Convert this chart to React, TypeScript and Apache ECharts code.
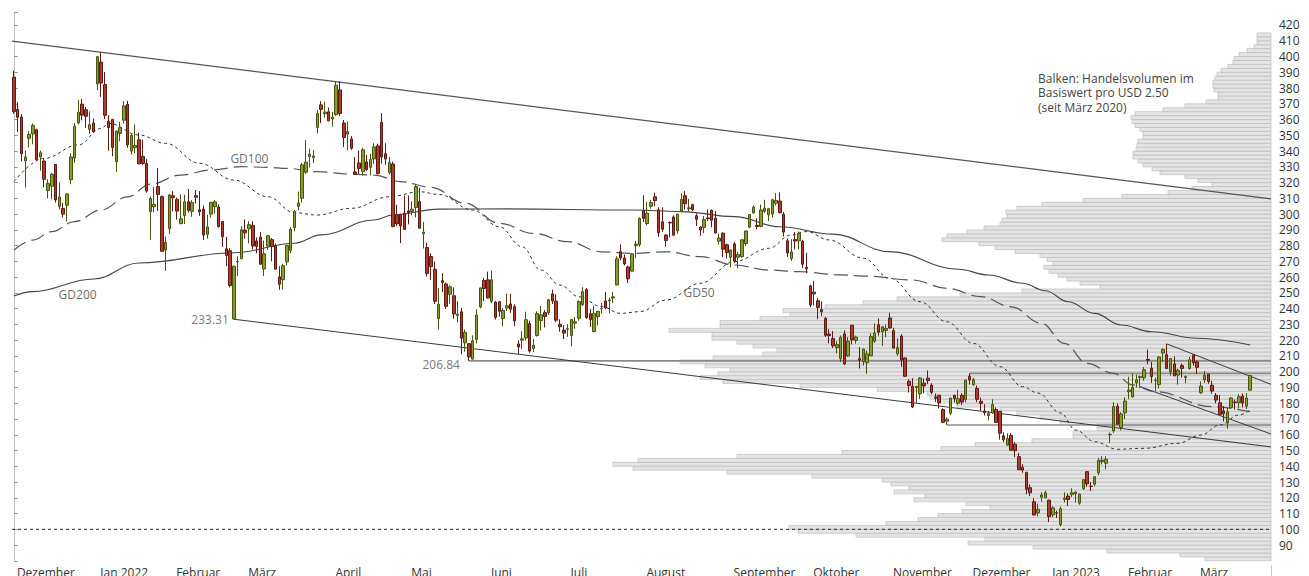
import React, { useEffect, useRef } from 'react';
import * as echarts from 'echarts';

// ---------- categories (trading days) ----------
const MONTHS: [string, string, number[]][] = [
  ['Dezember', '2021-12', [1, 2, 3, 6, 7, 8, 9, 10, 13, 14, 15, 16, 17, 20, 21, 22, 23, 27, 28, 29, 30, 31]],
  ['Jan 2022', '2022-01', [3, 4, 5, 6, 7, 10, 11, 12, 13, 14, 18, 19, 20, 21, 24, 25, 26, 27, 28, 31]],
  ['Februar', '2022-02', [1, 2, 3, 4, 7, 8, 9, 10, 11, 14, 15, 16, 17, 18, 22, 23, 24, 25, 28]],
  ['März', '2022-03', [1, 2, 3, 4, 7, 8, 9, 10, 11, 14, 15, 16, 17, 18, 21, 22, 23, 24, 25, 28, 29, 30, 31]],
  ['April', '2022-04', [1, 4, 5, 6, 7, 8, 11, 12, 13, 14, 18, 19, 20, 21, 22, 25, 26, 27, 28, 29]],
  ['Mai', '2022-05', [2, 3, 4, 5, 6, 9, 10, 11, 12, 13, 16, 17, 18, 19, 20, 23, 24, 25, 26, 27, 31]],
  ['Juni', '2022-06', [1, 2, 3, 6, 7, 8, 9, 10, 13, 14, 15, 16, 17, 21, 22, 23, 24, 27, 28, 29, 30]],
  ['Juli', '2022-07', [1, 5, 6, 7, 8, 11, 12, 13, 14, 15, 18, 19, 20, 21, 22, 25, 26, 27, 28, 29]],
  ['August', '2022-08', [1, 2, 3, 4, 5, 8, 9, 10, 11, 12, 15, 16, 17, 18, 19, 22, 23, 24, 25, 26, 29, 30, 31]],
  ['September', '2022-09', [1, 2, 6, 7, 8, 9, 12, 13, 14, 15, 16, 19, 20, 21, 22, 23, 26, 27, 28, 29, 30]],
  ['Oktober', '2022-10', [3, 4, 5, 6, 7, 10, 11, 12, 13, 14, 17, 18, 19, 20, 21, 24, 25, 26, 27, 28, 31]],
  ['November', '2022-11', [1, 2, 3, 4, 7, 8, 9, 10, 11, 14, 15, 16, 17, 18, 21, 22, 23, 25, 28, 29, 30]],
  ['Dezember', '2022-12', [1, 2, 5, 6, 7, 8, 9, 12, 13, 14, 15, 16, 19, 20, 21, 22, 23, 27, 28, 29, 30]],
  ['Jan 2023', '2023-01', [3, 4, 5, 6, 9, 10, 11, 12, 13, 17, 18, 19, 20, 23, 24, 25, 26, 27, 30, 31]],
  ['Februar', '2023-02', [1, 2, 3, 6, 7, 8, 9, 10, 13, 14, 15, 16, 17, 21, 22, 23, 24, 27, 28]],
  ['März', '2023-03', [1, 2, 3, 6, 7, 8, 9, 10, 13, 14, 15, 16, 17, 20, 21, 22, 23, 24, 27, 28]],
];

// ---------- daily prices [open, high, low, close] ----------
const dec21 = [
  [386.9, 391.0, 363.6, 365.0], [366.4, 371.0, 352.2, 361.5], [361.6, 363.5, 333.4, 338.3], [333.8, 340.5, 316.8, 336.3],
  [348.1, 352.6, 342.3, 350.6], [350.9, 357.5, 344.3, 356.3], [353.5, 354.2, 334.1, 334.6], [336.3, 340.3, 327.5, 339.0],
  [333.7, 335.0, 317.1, 322.1], [315.0, 322.1, 310.0, 319.5], [317.7, 326.3, 309.4, 325.3], [331.5, 331.7, 307.3, 309.0],
  [304.9, 320.2, 303.0, 310.9], [303.6, 307.2, 297.8, 300.0], [305.6, 313.2, 295.4, 312.8], [321.9, 338.6, 319.0, 336.3],
  [335.6, 357.7, 332.5, 355.7], [357.9, 372.3, 356.9, 364.6], [369.8, 373.0, 359.5, 362.8], [366.2, 368.0, 354.7, 362.1],
  [353.8, 365.2, 351.0, 356.8], [357.8, 360.7, 351.5, 352.3],
];
const jan22 = [
  [382.6, 400.4, 378.7, 399.9], [396.5, 402.7, 374.4, 383.2], [382.2, 390.1, 360.3, 362.7], [359.0, 362.7, 340.2, 354.9],
  [360.1, 360.3, 336.7, 342.3], [333.3, 353.0, 326.7, 352.7], [351.2, 358.6, 346.3, 354.8], [359.6, 371.6, 357.5, 368.7],
  [369.7, 371.9, 342.2, 343.9], [340.0, 350.7, 337.8, 349.9], [342.2, 356.9, 338.7, 343.5], [347.2, 351.6, 331.7, 331.9],
  [336.6, 347.2, 331.3, 332.1], [332.1, 334.9, 313.5, 314.6], [301.6, 311.2, 283.8, 310.0], [304.7, 317.1, 301.1, 306.1],
  [317.5, 329.2, 302.0, 312.5], [311.1, 311.8, 276.3, 276.4], [277.2, 285.8, 264.0, 282.1], [290.9, 312.7, 287.4, 312.2],
];
const feb22 = [
  [311.7, 314.6, 301.7, 310.4], [309.4, 310.5, 296.5, 301.9], [294.0, 312.5, 293.5, 297.0], [299.1, 312.2, 293.7, 307.8],
  [307.9, 315.9, 300.9, 302.4], [301.8, 308.8, 298.3, 307.3], [311.7, 315.4, 306.7, 310.7], [302.8, 314.6, 298.9, 301.5],
  [303.2, 305.3, 283.6, 286.7], [287.2, 299.6, 284.4, 291.9], [300.0, 307.7, 297.8, 307.5], [304.7, 308.8, 300.4, 307.8],
  [304.4, 306.2, 291.4, 292.1], [295.3, 295.6, 279.2, 285.7], [278.0, 285.6, 267.0, 273.8], [276.8, 278.4, 253.5, 254.7],
  [233.5, 267.5, 233.3, 266.9], [269.7, 273.2, 260.8, 270.0], [271.7, 292.3, 271.6, 290.1],
];
const mar22 = [
  [289.9, 296.6, 284.6, 288.1], [290.7, 295.5, 281.4, 293.3], [292.9, 295.5, 277.5, 279.8], [283.0, 285.2, 275.1, 279.4],
  [285.4, 288.7, 268.2, 268.2], [265.2, 283.3, 260.7, 274.8], [279.8, 286.9, 277.3, 286.3], [283.8, 284.8, 270.1, 279.4],
  [280.1, 281.3, 264.6, 265.1], [260.2, 266.9, 252.0, 255.5], [258.4, 268.5, 252.2, 267.3], [269.7, 280.7, 267.4, 280.1],
  [277.0, 291.7, 275.2, 290.5], [291.5, 302.6, 289.1, 301.8], [305.0, 314.3, 302.4, 307.1], [310.0, 332.6, 307.3, 331.3],
  [326.6, 346.9, 325.5, 333.0], [336.6, 341.5, 329.6, 338.0], [336.0, 340.6, 332.4, 336.9], [355.0, 366.0, 351.2, 363.9],
  [369.3, 371.6, 357.7, 366.5], [363.7, 371.3, 361.3, 364.7], [364.9, 367.7, 358.9, 359.2],
];
const apr22 = [
  [360.4, 364.9, 355.5, 361.5], [363.1, 384.3, 362.4, 381.8], [378.8, 384.3, 362.4, 363.8], [357.8, 359.7, 342.6, 348.6],
  [350.8, 358.9, 340.5, 352.4], [347.7, 349.5, 340.8, 341.8], [326.8, 336.2, 324.9, 325.3], [332.5, 340.4, 325.5, 329.0],
  [327.0, 342.1, 324.4, 340.8], [333.1, 337.6, 327.4, 328.3], [329.7, 338.3, 324.5, 334.8], [335.0, 345.0, 331.8, 342.7],
  [343.3, 344.7, 325.1, 325.7], [358.2, 364.1, 332.1, 336.3], [338.3, 345.0, 331.3, 335.0], [326.3, 336.2, 325.1, 332.7],
  [331.8, 333.3, 291.7, 292.1], [299.5, 306.0, 292.5, 293.8], [300.0, 300.0, 281.6, 292.5], [300.7, 311.7, 290.3, 290.3],
];
const may22 = [
  [302.0, 311.8, 293.5, 301.0], [301.7, 308.1, 299.3, 303.1], [304.2, 318.5, 297.9, 317.5], [308.0, 316.7, 290.8, 291.1],
  [287.6, 294.9, 278.2, 288.6], [278.8, 281.9, 260.4, 262.4], [273.1, 275.1, 258.1, 266.7], [265.0, 269.9, 243.0, 244.7],
  [233.7, 253.2, 226.7, 242.7], [257.8, 262.5, 250.5, 256.5], [255.7, 256.6, 239.7, 241.5], [249.1, 254.8, 243.0, 253.9],
  [248.2, 253.5, 233.6, 236.6], [235.7, 244.7, 231.4, 236.5], [238.0, 240.5, 211.0, 221.3], [218.3, 226.7, 212.7, 225.0],
  [217.8, 218.0, 206.9, 209.4], [208.0, 223.1, 207.7, 219.6], [220.5, 239.6, 217.9, 235.9], [241.1, 253.3, 240.2, 253.2],
  [257.9, 259.6, 244.7, 252.8],
];
const jun22 = [
  [258.3, 263.5, 246.4, 246.8], [244.7, 264.2, 243.5, 258.3], [244.2, 244.8, 233.2, 234.5], [244.4, 244.8, 234.9, 238.3],
  [233.7, 240.5, 228.8, 238.9], [240.4, 249.6, 238.5, 241.9], [243.0, 249.3, 237.3, 239.7], [241.3, 242.8, 228.9, 232.2],
  [217.6, 219.9, 211.2, 215.7], [220.0, 225.6, 214.5, 220.9], [221.4, 238.1, 219.9, 233.0], [230.5, 232.4, 212.0, 213.1],
  [214.7, 220.7, 212.5, 216.8], [223.0, 238.3, 222.3, 237.0], [232.5, 241.7, 226.1, 236.1], [237.5, 239.1, 228.1, 235.1],
  [237.5, 246.0, 236.0, 245.7], [249.4, 252.1, 243.0, 244.9], [244.8, 249.2, 231.7, 232.7], [230.1, 233.3, 225.4, 228.5],
  [226.4, 229.6, 220.7, 224.5],
];
const jul22 = [
  [227.0, 230.2, 222.1, 227.3], [223.0, 233.1, 216.2, 233.1], [230.8, 234.6, 227.2, 231.7], [233.9, 245.3, 232.3, 244.5],
  [242.6, 253.6, 241.7, 250.8], [252.1, 253.1, 233.6, 234.3], [236.8, 239.8, 228.4, 233.1], [225.5, 242.1, 225.0, 237.0],
  [234.9, 238.7, 229.3, 238.3], [240.0, 243.6, 236.9, 240.1], [244.9, 250.5, 239.6, 240.5], [245.0, 247.1, 237.0, 245.5],
  [246.8, 250.7, 243.5, 247.5], [255.1, 273.3, 254.9, 271.7], [276.2, 280.8, 270.7, 272.2], [272.2, 274.3, 267.5, 268.4],
  [266.5, 267.3, 256.3, 258.9], [263.8, 275.2, 263.7, 274.8], [279.9, 283.1, 272.1, 280.9], [280.7, 298.0, 279.3, 297.2],
];
const aug22 = [
  [302.2, 311.9, 295.0, 297.3], [294.0, 307.8, 292.8, 300.6], [305.0, 308.9, 303.4, 307.4], [311.0, 313.6, 305.0, 308.6],
  [302.7, 304.3, 285.6, 288.2], [295.1, 304.3, 288.8, 290.4], [286.7, 287.4, 279.4, 283.3], [294.7, 295.4, 285.3, 294.4],
  [298.2, 299.2, 286.4, 286.6], [289.4, 300.0, 287.6, 300.0], [301.8, 313.1, 301.2, 309.3], [311.7, 314.7, 302.9, 306.6],
  [303.4, 309.7, 301.7, 304.0], [306.0, 306.5, 301.9, 302.9], [299.0, 300.4, 292.5, 296.7], [291.8, 292.4, 286.3, 289.9],
  [291.5, 298.8, 287.9, 296.5], [297.6, 303.0, 295.7, 297.1], [302.4, 303.0, 291.6, 296.1], [297.4, 302.0, 287.5, 288.1],
  [282.8, 287.7, 280.7, 284.8], [287.9, 288.5, 272.7, 277.7], [280.6, 281.3, 271.8, 275.6],
];
const sep22 = [
  [272.6, 277.6, 266.2, 277.2], [281.1, 282.4, 269.1, 270.2], [272.7, 276.0, 265.7, 274.4], [273.1, 283.8, 272.3, 283.7],
  [281.3, 289.5, 279.8, 289.3], [291.7, 299.9, 291.3, 299.7], [300.7, 305.5, 300.4, 304.4], [292.9, 297.4, 290.4, 292.1],
  [292.2, 306.0, 291.6, 302.6], [301.8, 309.1, 300.7, 303.8], [299.6, 303.7, 295.6, 303.4], [300.1, 309.8, 297.8, 309.1],
  [306.9, 313.3, 305.6, 308.7], [308.3, 313.8, 300.6, 300.8], [299.9, 301.3, 285.8, 288.6], [283.1, 284.5, 272.8, 275.3],
  [271.8, 284.1, 270.3, 276.0], [283.8, 288.7, 277.5, 282.9], [283.1, 289.0, 277.6, 287.8], [282.8, 283.7, 265.8, 268.2],
  [266.2, 275.6, 262.5, 265.3],
];
const oct22 = [
  [254.5, 255.2, 241.0, 242.4], [250.5, 257.5, 242.0, 249.4], [245.0, 246.7, 233.3, 240.8], [239.4, 244.6, 235.4, 238.1],
  [233.9, 234.6, 222.0, 223.1], [223.9, 227.0, 218.0, 223.0], [221.0, 225.8, 215.0, 216.5], [215.3, 219.3, 211.5, 217.2],
  [208.3, 223.0, 206.2, 221.7], [224.0, 226.3, 204.2, 205.0], [210.0, 221.9, 209.5, 219.4], [229.5, 229.8, 217.3, 220.2],
  [219.8, 222.9, 217.8, 222.0], [208.3, 215.6, 202.0, 207.3], [206.4, 214.7, 203.8, 214.4], [205.8, 213.5, 198.6, 211.3],
  [210.1, 224.4, 210.0, 222.4], [219.4, 230.6, 218.2, 224.6], [229.8, 233.8, 222.9, 225.1], [225.4, 228.9, 216.4, 228.5],
  [226.2, 229.9, 221.9, 227.5],
];
const nov22 = [
  [234.1, 237.4, 227.3, 227.8], [226.0, 227.9, 214.8, 215.0], [211.4, 221.2, 210.1, 215.3], [222.6, 223.8, 203.1, 207.5],
  [208.7, 208.9, 196.7, 197.1], [194.0, 195.2, 186.8, 191.3], [190.8, 195.9, 177.1, 177.6], [189.9, 191.0, 180.0, 190.7],
  [186.0, 196.5, 182.6, 196.0], [192.8, 195.7, 186.3, 191.0], [195.9, 200.8, 192.1, 194.4], [191.5, 192.6, 185.7, 186.9],
  [184.0, 186.2, 180.9, 183.2], [185.1, 185.2, 176.6, 180.2], [175.9, 176.8, 167.5, 167.9], [168.6, 170.9, 166.2, 169.9],
  [173.6, 183.6, 172.5, 183.2], [185.1, 185.2, 180.6, 182.9], [180.0, 188.5, 179.0, 182.9], [185.0, 186.4, 178.8, 180.8],
  [182.4, 194.8, 180.6, 194.7],
];
const dec22 = [
  [197.1, 198.9, 191.8, 194.7], [191.8, 196.3, 191.1, 194.9], [189.4, 191.3, 180.6, 182.5], [181.2, 183.7, 175.3, 179.8],
  [175.0, 179.4, 172.2, 174.0], [172.2, 175.2, 169.1, 173.4], [173.8, 182.5, 173.4, 179.1], [176.1, 177.4, 167.5, 167.8],
  [174.9, 175.1, 156.9, 161.0], [159.3, 161.6, 155.3, 156.8], [153.4, 160.9, 153.3, 157.7], [159.6, 161.0, 150.0, 150.2],
  [154.0, 155.3, 145.8, 149.9], [146.1, 148.5, 137.7, 137.8], [139.3, 141.3, 135.9, 137.6], [136.0, 136.6, 122.3, 125.4],
  [126.4, 128.6, 121.0, 123.2], [117.5, 119.7, 108.8, 109.1], [110.4, 116.3, 108.2, 112.7], [120.4, 123.6, 117.5, 121.8],
  [120.0, 124.5, 119.8, 123.2],
];
const jan23 = [
  [118.5, 118.8, 104.6, 108.1], [109.1, 114.6, 107.5, 113.6], [110.5, 111.8, 107.2, 110.3], [103.0, 114.4, 101.8, 113.1],
  [119.0, 123.5, 117.1, 119.8], [121.1, 122.8, 114.9, 118.9], [122.1, 126.0, 120.5, 123.2], [122.6, 124.1, 117.0, 123.6],
  [116.6, 122.6, 115.6, 122.4], [125.7, 131.7, 125.0, 131.5], [136.6, 136.7, 127.0, 128.8], [127.3, 130.0, 124.3, 127.2],
  [128.7, 133.5, 127.4, 133.4], [135.9, 145.4, 134.3, 143.8], [143.0, 146.5, 141.1, 143.9], [141.9, 146.4, 138.1, 144.4],
  [160.0, 161.4, 154.8, 160.3], [162.4, 180.7, 161.2, 177.9], [178.1, 179.8, 166.5, 166.7], [164.6, 174.3, 162.8, 173.2],
];
const feb23 = [
  [173.9, 183.8, 169.9, 181.4], [187.3, 196.8, 182.6, 188.3], [184.0, 199.0, 183.7, 190.0], [193.0, 198.2, 189.9, 194.8],
  [196.4, 197.5, 189.6, 196.8], [196.1, 203.0, 194.3, 201.3], [207.8, 214.0, 204.8, 207.3], [202.2, 206.2, 192.9, 196.9],
  [194.4, 196.3, 187.6, 194.6], [191.9, 209.8, 189.4, 209.3], [211.8, 214.7, 206.1, 214.2], [210.8, 217.7, 201.8, 202.0],
  [200.0, 208.4, 197.5, 208.3], [205.0, 209.7, 197.2, 197.4], [197.9, 202.0, 191.8, 200.9], [203.9, 205.1, 196.3, 202.1],
  [196.3, 197.7, 192.8, 196.9], [202.0, 209.4, 201.3, 207.6], [210.6, 211.2, 203.8, 205.7],
];
const mar23 = [
  [206.2, 207.2, 198.5, 202.8], [186.7, 193.8, 186.0, 190.9], [194.8, 200.5, 192.9, 197.8], [198.5, 198.6, 192.3, 193.8],
  [191.4, 194.2, 186.1, 187.7], [185.0, 186.5, 180.0, 182.0], [180.3, 185.2, 172.5, 172.9], [175.1, 178.3, 168.4, 173.4],
  [167.5, 177.4, 163.9, 174.5], [177.3, 183.8, 177.1, 183.3], [180.8, 182.3, 176.0, 180.5], [180.4, 185.8, 176.7, 184.1],
  [184.5, 186.2, 177.4, 180.1], [178.1, 186.4, 176.4, 183.3], [188.3, 198.0, 188.0, 197.6],
];

// ---------- moving averages [day index, value] ----------
const GD50 = [
  [0, 320.6], [8, 335.4], [17, 343.9], [23, 354.4], [25, 357.6], [33, 350.2], [40, 344.9], [49, 332.2], [58, 321.6],
  [67, 311], [74, 300.9], [80, 299.4], [89, 303.7], [99, 311], [107, 314.2], [112, 312.5], [121, 302.6], [128, 292],
  [134, 279.3], [139, 264.5], [144, 255], [149, 247.6], [155, 241.3], [160, 237], [165, 238.1], [172, 245.5],
  [181, 256.1], [190, 269.8], [199, 278.3], [205, 286.8], [209, 288.9], [215, 283.6], [224, 272], [231, 259.3],
  [239, 244.4], [246, 231.7], [253, 218], [260, 203.2], [266, 190.5], [270, 186.5], [276, 173.8], [280, 163],
  [285, 155.6], [291, 150.8], [298, 151.4], [307, 154.6], [313, 159.8], [318, 166.2], [323, 172.5], [326, 175.7],
];
const GD100 = [
  [0, 277.2], [5, 283.5], [10, 288.9], [16, 295.3], [23, 302.6], [30, 311], [36, 319], [44, 324.8], [52, 328],
  [60, 330.1], [67, 329.7], [72, 329], [80, 326.9], [89, 325.4], [95, 324.8], [102, 320.6], [110, 317], [119, 306.9],
  [128, 294.2], [137, 287.8], [146, 282.5], [155, 276.1], [163, 275.1], [172, 276.1], [181, 273], [190, 267.7],
  [199, 264.5], [207, 263.5], [218, 261.4], [224, 260.7], [237, 258.2], [246, 252.9], [255, 247.6], [263, 241.2],
  [271, 230.7], [277, 218], [283, 205.3], [290, 199], [295, 191.6], [301, 187.3], [316, 177.8], [326, 174.6],
];
const GD200 = [
  [0, 248], [5, 250.8], [21, 258.8], [33, 269], [58, 275.5], [74, 281.5], [81, 286.8], [95, 296.3], [100, 299.4],
  [112, 303.2], [130, 303.3], [163, 302.6], [176, 301.6], [190, 298.4], [202, 292], [216, 287.3], [231, 276.2],
  [249, 265], [257, 261.4], [266, 256.1], [272, 251.4], [278, 244.4], [285, 237], [292, 229.6], [300, 225.4],
  [312, 221.2], [326, 216.9],
];

// ---------- trend and support lines [day index, price] ----------
const LINE_TOP = [[-0.5, 409.75], [331.5, 309.7]];
const LINE_LOW = [[58, 233.31], [331.5, 152.3]];
const LINE_CH_UP = [[304, 217.65], [331.5, 192.0]];
const LINE_CH_LOW = [[297, 190.5], [331.5, 160.5]];
const H_206 = [[120, 206.84], [331.5, 206.84]];
const H_199 = [[252, 198.92], [331.5, 198.92]];
const H_166 = [[246, 166.19], [331.5, 166.19]];
const H_100 = [[-0.5, 100], [331.5, 100]];

// ---------- volume profile (per USD 2.50, relative volume) ----------
const BIN_START = 80;
const BIN_SIZE = 2.5;
const VOLUME = [
  66, 91, 164, 238, 303, 286, 415, 473, 482, 385,
  353, 333, 309, 281, 305, 357, 346, 377, 362, 380,
  389, 459, 544, 638, 658, 633, 534, 429, 330, 296,
  239, 198, 198, 174, 174, 211, 231, 254, 271, 314,
  331, 341, 344, 394, 471, 548, 571, 553, 541, 566,
  591, 558, 508, 494, 518, 534, 559, 559, 602, 551,
  551, 511, 481, 488, 446, 408, 374, 311, 249, 171,
  191, 204, 213, 222, 227, 218, 224, 231, 256, 276,
  292, 329, 324, 304, 287, 271, 269, 264, 265, 254,
  229, 188, 149, 103, 79, 59, 73, 86, 111, 119,
  128, 133, 138, 138, 135, 134, 133, 128, 128, 131,
  136, 139, 140, 136, 108, 86, 65, 53, 53, 57,
  58, 58, 56, 54, 50, 43, 38, 37, 32, 24,
  17, 14, 14, 14,
];

// ---------- annotations ----------
const MA_LABELS = [
  { name: 'GD200', value: [16.8, 249.3] },
  { name: 'GD100', value: [62.1, 335.6] },
  { name: 'GD50', value: [180.7, 250] },
];
const NOTE_LINES = ['Balken: Handelsvolumen im', 'Basiswert pro USD 2.50', '(seit März 2020)'];

const FONT = '"Open Sans", "DejaVu Sans", sans-serif';

function buildOption() {
  const categories: string[] = [];
  const monthLabelAt: Record<number, string> = {};
  MONTHS.forEach(([label, ym, days]) => {
    monthLabelAt[categories.length] = label;
    days.forEach((d) => categories.push(`${ym}-${String(d).padStart(2, '0')}`));
  });
  const ohlc = [
    ...dec21, ...jan22, ...feb22, ...mar22, ...apr22, ...may22, ...jun22, ...jul22,
    ...aug22, ...sep22, ...oct22, ...nov22, ...dec22, ...jan23, ...feb23, ...mar23,
  ];
  const candles = ohlc.map(([o, h, l, c]) => [o, c, l, h]);
  const volData = VOLUME.map((v, i) => [v, BIN_START + i * BIN_SIZE]);
  const isMonthStart = (i: number) => monthLabelAt[i] !== undefined;
  const xMax = categories.length - 0.5;

  const line = (data: number[][], color: string, width: number, type: any = 'solid', z = 3, extra: any = {}) => ({
    type: 'line',
    xAxisIndex: 1,
    yAxisIndex: 0,
    data,
    symbol: 'none',
    silent: true,
    z,
    lineStyle: { color, width, type },
    ...extra,
  });

  return {
    animation: false,
    backgroundColor: '#ffffff',
    textStyle: { fontFamily: FONT },
    grid: [
      { left: 12, top: 12.39, width: 1259, height: 548.45, outerBoundsMode: 'none', containLabel: false },
      { left: 12, top: 566, width: 1259, height: 10, outerBoundsMode: 'none', containLabel: false },
    ],
    xAxis: [
      { type: 'category', gridIndex: 0, data: categories, boundaryGap: true, show: false },
      { type: 'value', gridIndex: 0, min: -0.5, max: xMax, show: false },
      { type: 'value', gridIndex: 0, min: 0, max: 1259, inverse: true, show: false },
      {
        type: 'category',
        gridIndex: 1,
        data: categories,
        position: 'top',
        boundaryGap: true,
        axisLine: { show: true, lineStyle: { color: '#c9c9c9', width: 1 } },
        axisTick: {
          show: true,
          inside: true,
          length: 10,
          alignWithLabel: true,
          interval: (i: number) => isMonthStart(i),
          lineStyle: { color: '#c9c9c9', width: 1 },
        },
        axisLabel: {
          show: true,
          inside: true,
          margin: 0,
          interval: (i: number) => isMonthStart(i),
          formatter: (_v: string, i: number) => monthLabelAt[i] ?? '',
          align: 'left',
          padding: [0, 0, 0, 3],
          color: '#333333',
          fontSize: 12,
          fontFamily: FONT,
        },
        splitLine: { show: false },
      },
    ],
    yAxis: [
      {
        type: 'value',
        gridIndex: 0,
        position: 'right',
        min: 80,
        max: 428,
        interval: 10,
        splitLine: { show: false },
        axisLine: { show: true, lineStyle: { color: '#c4c4c4', width: 1 } },
        axisTick: { show: true, length: 4, lineStyle: { color: '#9a9a9a' } },
        axisLabel: {
          show: true,
          margin: 8,
          color: '#333333',
          fontSize: 12,
          fontFamily: FONT,
          formatter: (v: number) => (v >= 90 && v <= 420 && v % 10 === 0 ? String(v) : ''),
        },
      },
      {
        type: 'value',
        gridIndex: 1,
        position: 'right',
        show: true,
        axisLine: { show: true, lineStyle: { color: '#c9c9c9' } },
        axisTick: { show: false },
        axisLabel: { show: false },
        splitLine: { show: false },
      },
    ],
    graphic: NOTE_LINES.map((t, i) => ({
      type: 'text',
      left: 1038,
      top: 72 + i * 14.5,
      silent: true,
      style: { text: t, font: `12px ${FONT}`, fill: '#444444' },
    })),
    series: [
      {
        type: 'custom',
        name: 'Volumen',
        xAxisIndex: 2,
        yAxisIndex: 0,
        z: 1,
        silent: true,
        data: volData,
        renderItem: (_p: any, api: any) => {
          const vol = api.value(0);
          const low = api.value(1);
          const tl = api.coord([vol, low + BIN_SIZE]);
          const br = api.coord([0, low]);
          return {
            type: 'rect',
            shape: { x: tl[0], y: tl[1], width: br[0] - tl[0], height: br[1] - tl[1] },
            style: { fill: '#e4e4e4', stroke: '#bdbdbd', lineWidth: 0.7 },
          };
        },
      },
      line(H_100, '#222222', 1, [3, 3], 3),
      line(H_206, '#8a8a8a', 1.8),
      line(H_199, '#8a8a8a', 1.8),
      line(H_166, '#555555', 1.2),
      line(LINE_TOP, '#555555', 1.2),
      line(LINE_LOW, '#3a3a3a', 1),
      line(LINE_CH_UP, '#3a3a3a', 1),
      line(LINE_CH_LOW, '#3a3a3a', 1),
      line(GD200, '#444444', 1.1, 'solid', 4, { smooth: 0.4, smoothMonotone: 'x' }),
      line(GD100, '#555555', 1.2, [14, 6], 4, { smooth: 0.4, smoothMonotone: 'x' }),
      line(GD50, '#333333', 1, [3, 3], 4, { smooth: 0.4, smoothMonotone: 'x' }),
      {
        type: 'candlestick',
        xAxisIndex: 0,
        yAxisIndex: 0,
        z: 5,
        silent: true,
        barWidth: 3,
        data: candles,
        itemStyle: {
          color: '#8b9c2c',
          color0: '#ae3b2c',
          borderColor: '#48530f',
          borderColor0: '#5c1b12',
          borderWidth: 1,
        },
      },
      {
        type: 'scatter',
        xAxisIndex: 1,
        yAxisIndex: 0,
        z: 6,
        silent: true,
        symbolSize: 0,
        data: MA_LABELS,
        label: { show: true, position: 'inside', formatter: '{b}', color: '#444444', fontSize: 12, fontFamily: FONT },
      },
      {
        type: 'scatter',
        xAxisIndex: 1,
        yAxisIndex: 0,
        z: 6,
        silent: true,
        symbolSize: 0,
        data: [
          { value: LINE_LOW[0], name: LINE_LOW[0][1].toFixed(2), label: { position: 'left', distance: 5 } },
          { value: H_206[0], name: H_206[0][1].toFixed(2), label: { position: 'left', distance: 9, offset: [0, 4] } },
        ],
        label: { show: true, formatter: '{b}', color: '#555555', fontSize: 12, fontFamily: FONT },
      },
    ],
  };
}

export default function App() {
  const ref = useRef<HTMLDivElement>(null);
  useEffect(() => {
    if (!ref.current) return;
    const chart = echarts.init(ref.current, null, { renderer: 'svg' });
    chart.setOption(buildOption() as any);
    return () => chart.dispose();
  }, []);
  return (
    <div
      ref={ref}
      style={{ position: 'fixed', left: 0, top: 0, width: 1309, height: 576, background: '#ffffff' }}
    />
  );
}
